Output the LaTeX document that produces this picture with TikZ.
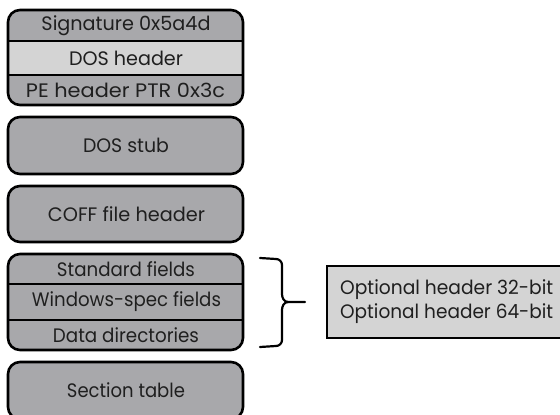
\documentclass[tikz,border=0pt]{standalone}
\usepackage{graphicx}
\usepackage{fontspec}
\setmainfont{Poppins}
\definecolor{boxgray}{HTML}{A8A8AB}
\definecolor{lightgray2}{HTML}{D4D4D4}
\newcommand{\fitw}[2]{\resizebox{#1pt}{\height}{#2}}
\begin{document}
\begin{tikzpicture}[x=1pt,y=-1pt,
  rbox/.style={draw=black,line width=2.6pt,fill=boxgray,rounded corners=12pt},
  divline/.style={line width=2pt},
  lbl/.style={inner sep=0pt,font=\fontsize{19.5}{24}\selectfont,text=black!88},
  optbox/.style={draw=black,line width=2pt,fill=lightgray2},
  bracepath/.style={line width=2.2pt,line join=round,line cap=round}
]
\useasboundingbox (0,0) rectangle (560,415);
% --- DOS header group
\fill[boxgray,rounded corners=12pt] (8,10) rectangle (243,105);
\fill[lightgray2] (8,41) rectangle (243,75);
\draw[divline] (8,41) -- (243,41);
\draw[divline] (8,75) -- (243,75);
\draw[rbox,fill=none] (8,10) rectangle (243,105);
\node[lbl] (sig) at (126,25.5) {\fitw{169}{Signature 0x5a4d}};
\node[lbl] (doshdr) at (126,58) {\fitw{114}{DOS header}};
\node[lbl] (peptr) at (125.5,90) {\fitw{199}{PE header PTR 0x3c}};
% --- DOS stub
\draw[rbox] (8,117) rectangle (243,174);
\node[lbl] (stub) at (126,145.5) {\fitw{86}{DOS stub}};
% --- COFF
\draw[rbox] (8,186) rectangle (243,242);
\node[lbl] (coff) at (126.5,214) {\fitw{157}{COFF file header}};
% --- Optional header group
\fill[boxgray,rounded corners=12pt] (8,254) rectangle (243,350);
\draw[divline] (8,284) -- (243,284);
\draw[divline] (8,320) -- (243,320);
\draw[rbox,fill=none] (8,254) rectangle (243,350);
\node[lbl] (std) at (126,269) {\fitw{138}{Standard fields}};
\node[lbl] (win) at (126.5,302) {\fitw{189}{Windows-spec fields}};
\node[lbl] (datadir) at (126,335) {\fitw{146}{Data directories}};
% --- Section table
\draw[rbox] (8,362) rectangle (243,419);
\node[lbl] (sect) at (126,390) {\fitw{118}{Section table}};
% --- brace
\coordinate (btop) at (260,258);
\coordinate (bbot) at (260,347);
\coordinate (btip) at (305,302);
\draw[bracepath] (btop) -- (276,259) to[out=0,in=90] (282,265) -- (282,294)
  to[out=-90,in=180] (288,302) -- (btip);
\draw[bracepath] (288,302) to[out=180,in=90] (282,310) -- (282,340)
  to[out=-90,in=0] (276,346) -- (bbot);
% --- optional header box
\draw[optbox] (327,266) rectangle (590,338);
\node[lbl,anchor=west,align=left] (opt) at (340,302) {\fitw{213}{Optional header 32-bit}\\\fitw{213}{Optional header 64-bit}};
\end{tikzpicture}
\end{document}
